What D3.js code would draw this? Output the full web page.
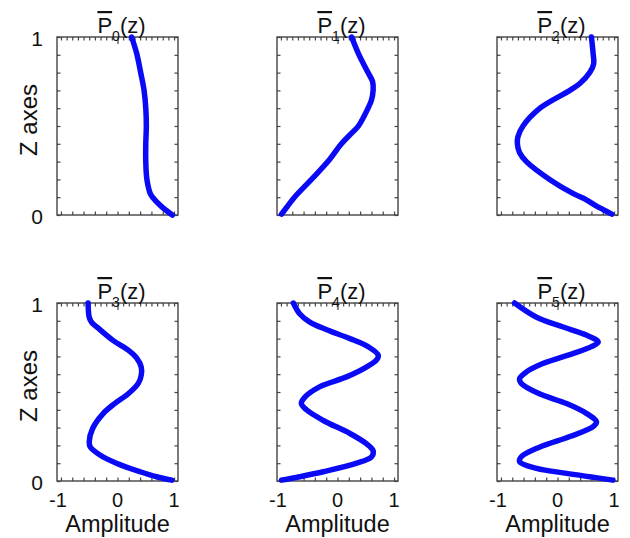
<!DOCTYPE html>
<html>
<head>
<meta charset="utf-8">
<script src="https://cdn.jsdelivr.net/npm/d3@7"></script>
<style>
	body { margin: 0; background: #fff; }
	svg text { font-family: 'Liberation Sans', Arial, Helvetica, sans-serif; fill: #111; }
	.frame { fill: none; stroke: #444; stroke-width: 1.4; }
	.tick line { stroke: #444; stroke-width: 1.2; }
	.domain { display: none; }
	.mode-line { fill: none; stroke: #0a0af5; stroke-width: 5.5; stroke-linejoin: round; stroke-linecap: round; }
</style>
</head>
<body>
<div id="chart"></div>
<script>

// [z, amplitude], one list per mode
var mode0 = [[1,0.25],[0.907,0.34],[0.8,0.41],[0.7,0.47],[0.6,0.5],[0.5,0.51],[0.4,0.5],[0.3,0.5],[0.2,0.52],[0.12,0.58],[0.1,0.62],[0.05,0.77],[0,0.97]]
var mode1 = [[1,0.25],[0.907,0.37],[0.8,0.54],[0.75,0.62],[0.7,0.63],[0.645,0.6],[0.6,0.54],[0.5,0.37],[0.46,0.25],[0.4,0.07],[0.3,-0.17],[0.2,-0.46],[0.1,-0.76],[0.03,-0.93],[0.005,-0.99]]
var mode2 = [[1,0.6],[0.907,0.63],[0.85,0.64],[0.8,0.57],[0.74,0.4],[0.7,0.22],[0.6,-0.31],[0.5,-0.61],[0.44,-0.7],[0.4,-0.71],[0.35,-0.67],[0.3,-0.55],[0.2,-0.14],[0.12,0.28],[0.085,0.51],[0.056,0.66],[0.03,0.81],[0.005,0.96]]
var mode3 = [[1,-0.52],[0.92,-0.5],[0.893,-0.46],[0.85,-0.31],[0.79,-0.08],[0.735,0.19],[0.69,0.34],[0.64,0.42],[0.595,0.42],[0.55,0.37],[0.49,0.19],[0.435,-0.05],[0.38,-0.25],[0.295,-0.44],[0.22,-0.5],[0.19,-0.48],[0.146,-0.31],[0.1,-0.02],[0.052,0.4],[0.024,0.69],[0.005,0.96]]
var mode4 = [[1,-0.78],[0.94,-0.67],[0.893,-0.49],[0.85,-0.19],[0.8,0.22],[0.755,0.54],[0.707,0.72],[0.68,0.69],[0.64,0.51],[0.585,0.16],[0.53,-0.31],[0.47,-0.58],[0.435,-0.64],[0.4,-0.55],[0.34,-0.25],[0.267,0.22],[0.21,0.51],[0.17,0.63],[0.135,0.6],[0.1,0.34],[0.052,-0.25],[0.024,-0.67],[0.005,-0.99]]
var mode5 = [[1,-0.76],[0.92,-0.37],[0.865,0.1],[0.82,0.51],[0.78,0.72],[0.755,0.6],[0.716,0.27],[0.66,-0.26],[0.613,-0.55],[0.575,-0.67],[0.548,-0.64],[0.49,-0.32],[0.435,0.16],[0.38,0.51],[0.333,0.69],[0.305,0.63],[0.25,0.22],[0.19,-0.32],[0.136,-0.64],[0.108,-0.67],[0.071,-0.37],[0.043,0.16],[0.024,0.57],[0.005,0.98]]

var modes = [mode0, mode1, mode2, mode3, mode4, mode5]
var modeIndex = ['0', '1', '2', '3', '4', '5']

var ampTicksTop = d3.range(-10, 11).map(function(d) { return d / 10 })
var ampTicksBottom = d3.range(-5, 6).map(function(d) { return d / 5 })
var ampLabels = [-1, 0, 1]
var zTicks = d3.range(0, 11).map(function(d) { return d / 10 })
var zLabels = [0, 1]

var settings = {
	'width' : 630,
	'height' : 538,
	'panelW' : 121,
	'panelH' : 178,
	'left' : 57,
	'top' : 37,
	'colStep' : 220,
	'rowStep' : 266
}

var xScale = d3.scaleLinear()
	.domain([-1.07, 1.07])
	.range([0, settings.panelW])

var yScale = d3.scaleLinear()
	.domain([0, 1])
	.range([settings.panelH, 0])

var line = d3.line()
	.x(function(d) { return xScale(d[1]) })
	.y(function(d) { return yScale(d[0]) })
	.curve(d3.curveCatmullRom)

var svg = d3.select('#chart')
	.append('svg')
	.attr('width', settings.width)
	.attr('height', settings.height)

modes.forEach(function(data, i) {

	var col = i % 3
	var row = Math.floor(i / 3)

	var g = svg.append('g')
		.attr('transform', 'translate(' + (settings.left + col * settings.colStep) + ',' + (settings.top + row * settings.rowStep) + ')')

	// inward ticks on all four sides
	g.append('g')
		.attr('class', 'axis')
		.attr('transform', 'translate(0,' + settings.panelH + ')')
		.call(d3.axisBottom(xScale).tickValues(ampTicksBottom).tickSize(-3.5).tickFormat(''))

	g.append('g')
		.attr('class', 'axis')
		.call(d3.axisTop(xScale).tickValues(ampTicksTop).tickSizeOuter(0).tickFormat(''))
		.selectAll('.tick line')
		.attr('y2', function(d) { return d === 0 ? 7 : 3.5 })

	g.append('g')
		.attr('class', 'axis')
		.call(d3.axisLeft(yScale).tickValues(zTicks).tickSize(-3.5).tickFormat(''))

	g.append('g')
		.attr('class', 'axis')
		.attr('transform', 'translate(' + settings.panelW + ',0)')
		.call(d3.axisRight(yScale).tickValues(zTicks).tickSize(-3.5).tickFormat(''))

	g.append('rect')
		.attr('class', 'frame')
		.attr('width', settings.panelW)
		.attr('height', settings.panelH)

	g.append('path')
		.datum(data)
		.attr('class', 'mode-line')
		.attr('d', line)

	// title  P-bar with subscript, drawn over the frame
	var title = g.append('text')
		.attr('x', settings.panelW / 2 + 4)
		.attr('y', -4)
		.attr('text-anchor', 'middle')
		.style('font-size', '22px')

	title.append('tspan')
		.style('text-decoration', 'overline')
		.text('P')
	title.append('tspan')
		.attr('dy', 8)
		.style('font-size', '14px')
		.text(modeIndex[i])
	title.append('tspan')
		.attr('dy', -8)
		.text('(z)')

	if (col === 0) {

		g.selectAll('.z-label')
			.data(zLabels)
			.enter().append('text')
			.attr('class', 'z-label')
			.attr('x', -14)
			.attr('y', function(d) { return yScale(d) + 1 })
			.attr('text-anchor', 'end')
			.attr('dominant-baseline', 'central')
			.style('font-size', '21px')
			.text(function(d) { return d })

		g.append('text')
			.attr('transform', 'translate(-20,' + (settings.panelH / 2 - 6) + ') rotate(-90)')
			.attr('text-anchor', 'middle')
			.style('font-size', '24px')
			.text('Z axes')

	}

	if (row === 1) {

		g.selectAll('.amp-label')
			.data(ampLabels)
			.enter().append('text')
			.attr('class', 'amp-label')
			.attr('x', function(d) { return xScale(d) + (d < 0 ? -3 : 0) })
			.attr('y', settings.panelH + 26)
			.attr('text-anchor', 'middle')
			.style('font-size', '20px')
			.text(function(d) { return d })

		g.append('text')
			.attr('x', settings.panelW / 2)
			.attr('y', settings.panelH + 51)
			.attr('text-anchor', 'middle')
			.style('font-size', '23.5px')
			.text('Amplitude')

	}

})

</script>
</body>
</html>
